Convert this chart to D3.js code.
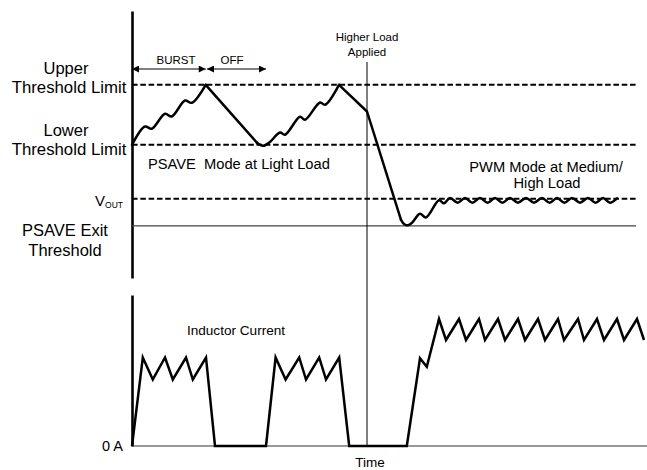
<!DOCTYPE html>
<html><head><meta charset="utf-8">
<script src="https://cdn.jsdelivr.net/npm/d3@7"></script>
<style>
body{margin:0;background:#fff}
text{font-family:"Liberation Sans",Arial,Helvetica,sans-serif;fill:#000}
</style>
</head><body>
<svg id="c" width="647" height="470"></svg>
<script>
// ---------- data (time in arbitrary units, voltage / current in arbitrary units) ----------
const thresholdNames  = ["Upper Threshold Limit","Lower Threshold Limit","VOUT","PSAVE Exit Threshold"];
const thresholdValues = [3.0, 2.0, 1.1, 0.65];
const thresholdDashed = [true, true, true, false];

// output voltage, split in smooth (ripple) and straight pieces
const burstRise1 = [[0,2.0],[3.25,2.305],[4.93,2.267],[8.25,2.517],[9.93,2.472],[13.25,2.738],[14.93,2.70],[18.43,3.0]];
const offFall1   = [[18.43,3.0],[31.25,2.033]];
const burstRise2 = [[31.25,2.033],[32.75,1.983],[34.25,2.033],[37.0,2.205],[38.25,2.167],[42.0,2.467],[43.25,2.417],[47.0,2.705],[48.25,2.667],[51.75,3.0]];
const loadStep   = [[51.75,3.0],[58.75,2.555],[67.25,0.75]];
const pwmVoltage = [[67.25,0.75],[68.1,0.675],[69.0,0.658],[70.0,0.70],[72.0,0.85],[73.5,0.79],[76.75,1.075],[78.0,1.025],
  [79.5,1.115],[81.4,1.035],[83.25,1.115],[85.1,1.035],[87.0,1.115],[88.9,1.035],[90.75,1.115],[92.6,1.035],[94.5,1.115],[96.5,1.035],
  [98.5,1.115],[100.5,1.035],[102.5,1.115],[104.4,1.035],[106.25,1.115],[108.1,1.035],[110.0,1.115],[112.0,1.035],[114.0,1.115],
  [115.9,1.035],[117.75,1.115],[119.5,1.035],[121.25,1.108]];

// inductor current
const inductorCurrent = [[0,0],[2.7,0.885],[5.2,0.665],[8.25,0.885],[10.2,0.665],[13.5,0.885],[15.2,0.665],[18.5,0.885],[20.75,0],
  [33.5,0],[35.9,0.885],[38.4,0.665],[41.8,0.885],[43.5,0.665],[46.8,0.885],[48.5,0.665],[51.8,0.885],[54.3,0],
  [68.7,0],[72.0,0.877],[73.7,0.793],[76.75,1.27],[78.5,1.06],[81.75,1.27],[83.5,1.06],[86.75,1.27],[88.25,1.06],[91.5,1.27],
  [93.25,1.06],[96.5,1.27],[98.25,1.06],[101.5,1.27],[103.25,1.06],[106.5,1.27],[108.0,1.06],[111.5,1.27],[113.0,1.06],
  [116.25,1.27],[118.0,1.06],[121.25,1.27],[123.0,1.06],[126.25,1.27],[128.0,1.06]];

const loadTime   = 58.75;
const burstSpan  = [0, 18.43];
const offSpan    = [18.75, 33.5];
const thresholdEnd = 126;
const zeroEnd    = 129;
const voltDomain = [-0.22, 4.23];
const currDomain = [0, 1.51];

// ---------- scales ----------
const svg = d3.select("#c");
const x  = d3.scaleLinear().domain([0,128]).range([132,644]);
const yV = d3.scaleLinear().domain(voltDomain).range([278,11]);
const yI = d3.scaleLinear().domain(currDomain).range([446,295]);

// arrow marker
const defs = svg.append("defs");
defs.append("marker").attr("id","ah").attr("viewBox","0 0 10 10").attr("refX",10).attr("refY",5)
  .attr("markerUnits","userSpaceOnUse").attr("markerWidth",8).attr("markerHeight",7)
  .attr("orient","auto-start-reverse")
  .append("path").attr("d","M0,0L10,5L0,10z").attr("fill","#000");

// ---------- axes ----------
const axV = svg.append("g").attr("transform",`translate(${x(0)},0)`)
  .call(d3.axisLeft(yV).tickValues([]).tickSizeOuter(0));
const axI = svg.append("g").attr("transform",`translate(${x(0)},0)`)
  .call(d3.axisLeft(yI).tickValues([]).tickSizeOuter(0));
[axV,axI].forEach(a=>a.select(".domain").attr("stroke","#000").attr("stroke-width",2.6));

// threshold lines
svg.append("g").selectAll("line").data(thresholdValues).join("line")
  .attr("x1",x(0)).attr("x2",x(thresholdEnd))
  .attr("y1",d=>yV(d)).attr("y2",d=>yV(d))
  .attr("stroke",(d,i)=>thresholdDashed[i]?"#000":"#444")
  .attr("stroke-width",(d,i)=>thresholdDashed[i]?2:1.2)
  .attr("stroke-dasharray",(d,i)=>thresholdDashed[i]?"5.6,2.7":null);

// zero current line
svg.append("line").attr("x1",x(0)).attr("x2",x(zeroEnd)).attr("y1",yI(0)).attr("y2",yI(0))
  .attr("stroke","#333").attr("stroke-width",1.2);

// load step marker
svg.append("line").attr("x1",x(loadTime)).attr("x2",x(loadTime)).attr("y1",62).attr("y2",yI(0))
  .attr("stroke","#000").attr("stroke-width",1);

// ---------- waveforms ----------
const smooth = d3.line().x(d=>x(d[0])).y(d=>yV(d[1])).curve(d3.curveCatmullRom.alpha(0.5));
const straight = d3.line().x(d=>x(d[0])).y(d=>yV(d[1]));
const vSegs = [[burstRise1,smooth],[offFall1,straight],[burstRise2,smooth],[loadStep,straight],[pwmVoltage,smooth]];
svg.append("g").selectAll("path").data(vSegs).join("path")
  .attr("d",d=>d[1](d[0])).attr("fill","none").attr("stroke","#000")
  .attr("stroke-width",2.5).attr("stroke-linejoin","round").attr("stroke-linecap","round");

const iLine = d3.line().x(d=>x(d[0])).y(d=>yI(d[1]));
svg.append("path").attr("d",iLine(inductorCurrent)).attr("fill","none").attr("stroke","#000")
  .attr("stroke-width",2.5).attr("stroke-linejoin","miter");

// burst / off arrows
[burstSpan, offSpan].forEach(s=>{
  svg.append("line").attr("x1",x(s[0])).attr("x2",x(s[1])).attr("y1",69).attr("y2",69)
    .attr("stroke","#000").attr("stroke-width",1)
    .attr("marker-start","url(#ah)").attr("marker-end","url(#ah)");
});

// ---------- text ----------
function txt(t,xx,yy,size,anchor){
  return svg.append("text").attr("x",xx).attr("y",yy).attr("font-size",size)
    .attr("text-anchor",anchor||"middle").text(t);
}
txt("BURST",176,64,11.5);
txt("OFF",232,64,11.5);
txt("Higher Load",367,41,11.5);
txt("Applied",367,55.5,11.5);

txt("Upper",66,74,16.5);
txt("Threshold Limit",69,93,16.8);
txt("Lower",66,136,16.5);
txt("Threshold Limit",69,155,16.8);
const vt = svg.append("text").attr("x",123).attr("y",206).attr("font-size",15).attr("text-anchor","end");
vt.append("tspan").text("V");
vt.append("tspan").attr("font-size",8.5).attr("dy",1.5).text("OUT");
txt("PSAVE Exit",65,236,16.5);
txt("Threshold",65,256,16.5);

txt("PSAVE  Mode at Light Load",148,169,14.7,"start").style("white-space","pre");
txt("PWM Mode at Medium/",546,172,14.7);
txt("High Load",547,188,14.7);

txt("Inductor Current",236,335,13.6);
txt("0 A",123,451,14.5,"end");
txt("Time",370,467,13.5);
</script>
</body></html>
